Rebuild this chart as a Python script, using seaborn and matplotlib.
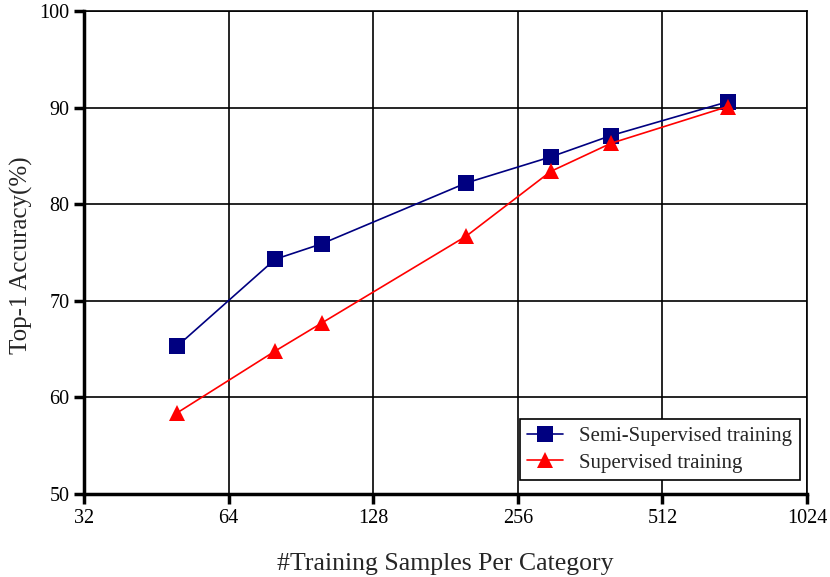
import numpy as np
import pandas as pd
import matplotlib
matplotlib.use("Agg")
import matplotlib.pyplot as plt
import seaborn as sns

sns.set_style("white")
plt.rcParams['font.family'] = ['Liberation Serif', 'DejaVu Serif']

samples = [50, 80, 100, 200, 300, 400, 700]
semi_acc = [65.3, 74.3, 75.9, 82.2, 84.9, 87.1, 90.6]
sup_acc = [58.4, 64.8, 67.7, 76.7, 83.4, 86.3, 90.1]
x_ticks = [32, 64, 128, 256, 512, 1024]
y_ticks = [50, 60, 70, 80, 90, 100]

df = pd.DataFrame({
    "samples": samples * 2,
    "acc": semi_acc + sup_acc,
    "method": ["Semi-Supervised training"] * len(samples)
              + ["Supervised training"] * len(samples),
})

fig = plt.figure(figsize=(8.3, 5.77), dpi=100)
ax = fig.add_axes([0.1012, 0.1438, 0.8711, 0.8372])

sns.lineplot(data=df, x="samples", y="acc", hue="method", style="method",
             palette={"Semi-Supervised training": "#000080",
                      "Supervised training": "#ff0000"},
             markers={"Semi-Supervised training": "s",
                      "Supervised training": "^"},
             dashes=False, markersize=11, linewidth=1.2,
             markeredgewidth=0, ax=ax)

ax.set_xscale("log", base=2)
ax.set_xlim(32, 1024)
ax.set_ylim(50, 100)
ax.set_xticks(x_ticks)
ax.set_xticklabels([str(t) for t in x_ticks])
ax.set_yticks(y_ticks)
ax.minorticks_off()
ax.grid(True, color="black", linewidth=1.2)
ax.set_axisbelow(True)

for s in ["top", "right"]:
    ax.spines[s].set_linewidth(1.2)
    ax.spines[s].set_color("black")
for s in ["left", "bottom"]:
    ax.spines[s].set_linewidth(2.5)
    ax.spines[s].set_color("black")

ax.tick_params(axis="both", direction="out", length=7.5, width=2.5, pad=3,
               labelsize=14.5, colors="black", bottom=True, left=True)
ax.set_xlabel("#Training Samples Per Category", fontsize=18.5)
ax.set_ylabel("Top-1 Accuracy(%)", fontsize=18)
ax.xaxis.set_label_coords(0.5, -0.122)
ax.yaxis.set_label_coords(-0.071, 0.495)

leg = ax.legend(loc="lower right", fontsize=15, frameon=True, fancybox=False,
                edgecolor="black", framealpha=1, borderaxespad=0,
                borderpad=0.35, handlelength=1.7, handletextpad=0.8,
                labelspacing=0.35, bbox_to_anchor=(0.990, 0.029))
leg.get_frame().set_linewidth(1.2)
leg.set_title(None)

fig.savefig("out.png", dpi=100)
